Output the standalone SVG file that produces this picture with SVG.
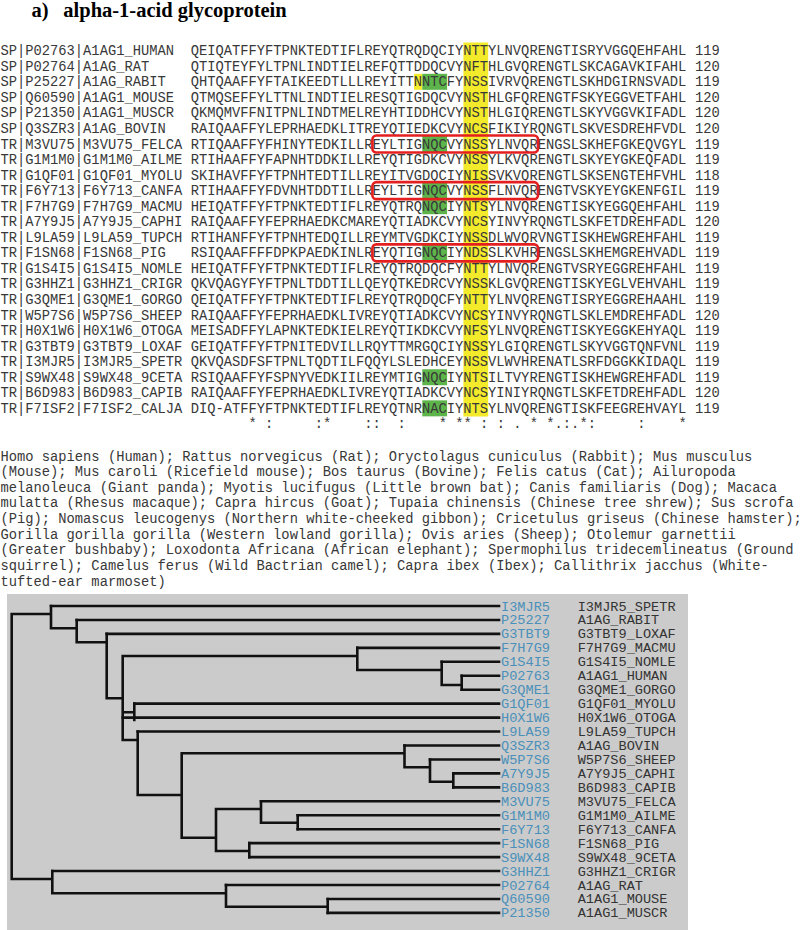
<svg xmlns="http://www.w3.org/2000/svg" width="800" height="930" viewBox="0 0 800 930">
<style>
.t{font-family:"Liberation Mono",monospace;font-size:13.78px;fill:#383838;white-space:pre}
.ttl{font-family:"Liberation Serif",serif;font-weight:bold;font-size:20.5px;fill:#000}
.yl{fill:#f2ea2b}
.gr{fill:#5db44b}
.rb{fill:none;stroke:#e3201f;stroke-width:2.6}
.br{fill:none;stroke:#111;stroke-width:2.6;stroke-linecap:square}
.id{font-family:"Liberation Mono",monospace;font-size:13.6px;fill:#4a90ba}
.nm{font-family:"Liberation Mono",monospace;font-size:13.6px;fill:#333}
</style>
<rect width="800" height="930" fill="#fff"/>
<g id="title">
<text class="ttl" x="31.5" y="17">a)</text>
<text class="ttl" x="63.3" y="17">alpha-1-acid glycoprotein</text>
</g>
<g id="highlights">
<rect class="yl" x="463.4" y="42.5" width="24.8" height="374"/>
<rect class="yl" x="414" y="73.8" width="8.3" height="16"/>
<rect class="gr" x="422.3" y="73.8" width="24.8" height="16"/>
<rect class="gr" x="422.3" y="136" width="24.8" height="16"/>
<rect class="gr" x="422.3" y="182.65" width="24.8" height="16"/>
<rect class="gr" x="422.3" y="198.2" width="24.8" height="16"/>
<rect class="gr" x="422.3" y="244.85" width="24.8" height="16"/>
<rect class="gr" x="422.3" y="369.25" width="24.8" height="16"/>
<rect class="gr" x="422.3" y="400.35" width="24.8" height="16"/>
</g>
<g id="labels">
<text class="t" x="0.5" y="55.2">SP|P02763|A1AG1_HUMAN</text>
<text class="t" x="0.5" y="70.75">SP|P02764|A1AG_RAT</text>
<text class="t" x="0.5" y="86.3">SP|P25227|A1AG_RABIT</text>
<text class="t" x="0.5" y="101.85">SP|Q60590|A1AG1_MOUSE</text>
<text class="t" x="0.5" y="117.4">SP|P21350|A1AG1_MUSCR</text>
<text class="t" x="0.5" y="132.95">SP|Q3SZR3|A1AG_BOVIN</text>
<text class="t" x="0.5" y="148.5">TR|M3VU75|M3VU75_FELCA</text>
<text class="t" x="0.5" y="164.05">TR|G1M1M0|G1M1M0_AILME</text>
<text class="t" x="0.5" y="179.6">TR|G1QF01|G1QF01_MYOLU</text>
<text class="t" x="0.5" y="195.15">TR|F6Y713|F6Y713_CANFA</text>
<text class="t" x="0.5" y="210.7">TR|F7H7G9|F7H7G9_MACMU</text>
<text class="t" x="0.5" y="226.25">TR|A7Y9J5|A7Y9J5_CAPHI</text>
<text class="t" x="0.5" y="241.8">TR|L9LA59|L9LA59_TUPCH</text>
<text class="t" x="0.5" y="257.35">TR|F1SN68|F1SN68_PIG</text>
<text class="t" x="0.5" y="272.9">TR|G1S4I5|G1S4I5_NOMLE</text>
<text class="t" x="0.5" y="288.45">TR|G3HHZ1|G3HHZ1_CRIGR</text>
<text class="t" x="0.5" y="304">TR|G3QME1|G3QME1_GORGO</text>
<text class="t" x="0.5" y="319.55">TR|W5P7S6|W5P7S6_SHEEP</text>
<text class="t" x="0.5" y="335.1">TR|H0X1W6|H0X1W6_OTOGA</text>
<text class="t" x="0.5" y="350.65">TR|G3TBT9|G3TBT9_LOXAF</text>
<text class="t" x="0.5" y="366.2">TR|I3MJR5|I3MJR5_SPETR</text>
<text class="t" x="0.5" y="381.75">TR|S9WX48|S9WX48_9CETA</text>
<text class="t" x="0.5" y="397.3">TR|B6D983|B6D983_CAPIB</text>
<text class="t" x="0.5" y="412.85">TR|F7ISF2|F7ISF2_CALJA</text>
</g>
<g id="sequences">
<text class="t" x="190.7" y="55.2">QEIQATFFYFTPNKTEDTIFLREYQTRQDQCIYNTTYLNVQRENGTISRYVGGQEHFAHL</text>
<text class="t" x="190.7" y="70.75">QTIQTEYFYLTPNLINDTIELREFQTTDDQCVYNFTHLGVQRENGTLSKCAGAVKIFAHL</text>
<text class="t" x="190.7" y="86.3">QHTQAAFFYFTAIKEEDTLLLREYITTNNTCFYNSSIVRVQRENGTLSKHDGIRNSVADL</text>
<text class="t" x="190.7" y="101.85">QTMQSEFFYLTTNLINDTIELRESQTIGDQCVYNSTHLGFQRENGTFSKYEGGVETFAHL</text>
<text class="t" x="190.7" y="117.4">QKMQMVFFNITPNLINDTMELREYHTIDDHCVYNSTHLGIQRENGTLSKYVGGVKIFADL</text>
<text class="t" x="190.7" y="132.95">RAIQAAFFYLEPRHAEDKLITREYQTIEDKCVYNCSFIKIYRQNGTLSKVESDREHFVDL</text>
<text class="t" x="190.7" y="148.5">RTIQAAFFYFHINYTEDKILLREYLTIGNQCVYNSSYLNVQRENGSLSKHEFGKEQVGYL</text>
<text class="t" x="190.7" y="164.05">RTIHAAFFYFAPNHTDDKILLREYQTIGDKCVYNSSYLKVQRENGTLSKYEYGKEQFADL</text>
<text class="t" x="190.7" y="179.6">SKIHAVFFYFTPNHTEDTILLREYITVGDQCIYNISSVKVQRENGTLSKSENGTEHFVHL</text>
<text class="t" x="190.7" y="195.15">RTIHAAFFYFDVNHTDDTILLREYLTIGNQCVYNSSFLNVQRENGTVSKYEYGKENFGIL</text>
<text class="t" x="190.7" y="210.7">HEIQATFFYFTPNKTEDTIFLREYQTRQNQCIYNTSYLNVQRENGTISKYEGGQEHFAHL</text>
<text class="t" x="190.7" y="226.25">RAIQAAFFYFEPRHAEDKCMAREYQTIADKCVYNCSYINVYRQNGTLSKFETDREHFADL</text>
<text class="t" x="190.7" y="241.8">RTIHANFFYFTPNHTEDQILLREYMTVGDKCIYNSSDLWVQRVNGTISKHEWGREHFAHL</text>
<text class="t" x="190.7" y="257.35">RSIQAAFFFFDPKPAEDKINLREYQTIGNQCIYNDSSLKVHRENGSLSKHEMGREHVADL</text>
<text class="t" x="190.7" y="272.9">HEIQATFFYFTPNKTEDTIFLREYQTRQDQCFYNTTYLNVQRENGTVSRYEGGREHFAHL</text>
<text class="t" x="190.7" y="288.45">QKVQAGYFYFTPNLTDDTILLQEYQTKEDRCVYNSSKLGVQRENGTISKYEGLVEHVAHL</text>
<text class="t" x="190.7" y="304">QEIQATFFYFTPNKTEDTIFLREYQTRQDQCFYNTTYLNVQRENGTISRYEGGREHAAHL</text>
<text class="t" x="190.7" y="319.55">RAIQAAFFYFEPRHAEDKLIVREYQTIADKCVYNCSYINVYRQNGTLSKLEMDREHFADL</text>
<text class="t" x="190.7" y="335.1">MEISADFFYLAPNKTEDKIELREYQTIKDKCVYNFSYLNVQRENGTISKYEGGKEHYAQL</text>
<text class="t" x="190.7" y="350.65">GEIQATFFYFTPNITEDVILLRQYTTMRGQCIYNSSYLGIQRENGTLSKYVGGTQNFVNL</text>
<text class="t" x="190.7" y="366.2">QKVQASDFSFTPNLTQDTILFQQYLSLEDHCEYNSSVLWVHRENATLSRFDGGKKIDAQL</text>
<text class="t" x="190.7" y="381.75">RSIQAAFFYFSPNYVEDKIILREYMTIGNQCIYNTSILTVYRENGTISKHEWGREHFADL</text>
<text class="t" x="190.7" y="397.3">RAIQAAFFYFEPRHAEDKLIVREYQTIADKCVYNCSYINIYRQNGTLSKFETDREHFADL</text>
<text class="t" x="190.7" y="412.85">DIQ-ATFFYFTPNKTEDTIFLREYQTNRNACIYNTSYLNVQRENGTISKFEEGREHVAYL</text>
<text class="t" x="248.6 265.1 314.7 323.0 364.3 372.6 397.4 438.8 455.3 463.6 480.1 496.7 513.2 529.7 546.3 554.5 562.8 571.1 579.4 587.7 637.3 678.6" y="428.4">*::*:::***::.**.:.*::*</text>
</g>
<g id="lengths">
<text class="t" x="695.1" y="55.2">119</text>
<text class="t" x="695.1" y="70.75">120</text>
<text class="t" x="695.1" y="86.3">119</text>
<text class="t" x="695.1" y="101.85">120</text>
<text class="t" x="695.1" y="117.4">120</text>
<text class="t" x="695.1" y="132.95">120</text>
<text class="t" x="695.1" y="148.5">119</text>
<text class="t" x="695.1" y="164.05">119</text>
<text class="t" x="695.1" y="179.6">118</text>
<text class="t" x="695.1" y="195.15">119</text>
<text class="t" x="695.1" y="210.7">119</text>
<text class="t" x="695.1" y="226.25">120</text>
<text class="t" x="695.1" y="241.8">119</text>
<text class="t" x="695.1" y="257.35">119</text>
<text class="t" x="695.1" y="272.9">119</text>
<text class="t" x="695.1" y="288.45">119</text>
<text class="t" x="695.1" y="304">119</text>
<text class="t" x="695.1" y="319.55">120</text>
<text class="t" x="695.1" y="335.1">119</text>
<text class="t" x="695.1" y="350.65">119</text>
<text class="t" x="695.1" y="366.2">119</text>
<text class="t" x="695.1" y="381.75">119</text>
<text class="t" x="695.1" y="397.3">120</text>
<text class="t" x="695.1" y="412.85">119</text>
</g>
<g id="boxes">
<rect class="rb" x="372.4" y="135.5" width="165.6" height="17" rx="4"/>
<rect class="rb" x="372.4" y="182.15" width="165.6" height="17" rx="4"/>
<rect class="rb" x="372.4" y="244.35" width="165.6" height="17" rx="4"/>
</g>
<g id="species">
<text class="t" x="0.5" y="460.5">Homo sapiens (Human); Rattus norvegicus (Rat); Oryctolagus cuniculus (Rabbit); Mus musculus</text>
<text class="t" x="0.5" y="476.15">(Mouse); Mus caroli (Ricefield mouse); Bos taurus (Bovine); Felis catus (Cat); Ailuropoda</text>
<text class="t" x="0.5" y="491.8">melanoleuca (Giant panda); Myotis lucifugus (Little brown bat); Canis familiaris (Dog); Macaca</text>
<text class="t" x="0.5" y="507.45">mulatta (Rhesus macaque); Capra hircus (Goat); Tupaia chinensis (Chinese tree shrew); Sus scrofa</text>
<text class="t" x="0.5" y="523.1">(Pig); Nomascus leucogenys (Northern white-cheeked gibbon); Cricetulus griseus (Chinese hamster);</text>
<text class="t" x="0.5" y="538.75">Gorilla gorilla gorilla (Western lowland gorilla); Ovis aries (Sheep); Otolemur garnettii</text>
<text class="t" x="0.5" y="554.4">(Greater bushbaby); Loxodonta Africana (African elephant); Spermophilus tridecemlineatus (Ground</text>
<text class="t" x="0.5" y="570.05">squirrel); Camelus ferus (Wild Bactrian camel); Capra ibex (Ibex); Callithrix jacchus (White-</text>
<text class="t" x="0.5" y="585.7">tufted-ear marmoset)</text>
</g>
<g id="tree-panel">
<rect x="7" y="594" width="681" height="336" fill="#cbcbcb"/>
</g>
<g id="connectors" class="br">
<path class="br" d="M11.7 614V879M11.7 614H51M51 606V628.3M51 628.3H76.7M76.7 619.95V642.3M76.7 642.3H106.7M106.7 633.9V698.3M106.7 698.3H122.7M122.7 656V740M122.7 656H357.3M357.3 647.85V670M357.3 670H441.7M441.7 661.8V685M441.7 685H461.7M461.7 675.75V689.7M122.7 712.3H134.3M134.3 703.65V720M122.7 740H137.7M137.7 731.55V795M137.7 795H181.7M181.7 753.3V837.7M181.7 753.3H404.5M404.5 745.5V767.3M404.5 767.3H430M430 759.45V781.7M430 781.7H453.3M453.3 773.4V787.35M181.7 837.7H216M216 809V851M216 809H261M261 801.3V822.7M261 822.7H297.7M297.7 815.25V829.2M216 851H249.3M249.3 843.15V857.1M11.7 879H52.3M52.3 871.05V893.3M52.3 893.3H226M226 885V906.7M226 906.7H327.7M327.7 898.95V912.9"/>
<path class="br" d="M51 606H499M76.7 619.95H499M106.7 633.9H499M357.3 647.85H499M441.7 661.8H499M461.7 675.75H499M461.7 689.7H499M134.3 703.65H499M122.7 717.6H499M137.7 731.55H499M404.5 745.5H499M430 759.45H499M453.3 773.4H499M453.3 787.35H499M261 801.3H499M297.7 815.25H499M297.7 829.2H499M249.3 843.15H499M249.3 857.1H499M52.3 871.05H499M226 885H499M327.7 898.95H499M327.7 912.9H499"/>
</g>
<g id="leaf-I3MJR5"><text class="id" x="501" y="610.5">I3MJR5</text><text class="nm" x="577.7" y="610.5">I3MJR5_SPETR</text></g>
<g id="leaf-P25227"><text class="id" x="501" y="624.45">P25227</text><text class="nm" x="577.7" y="624.45">A1AG_RABIT</text></g>
<g id="leaf-G3TBT9"><text class="id" x="501" y="638.4">G3TBT9</text><text class="nm" x="577.7" y="638.4">G3TBT9_LOXAF</text></g>
<g id="leaf-F7H7G9"><text class="id" x="501" y="652.35">F7H7G9</text><text class="nm" x="577.7" y="652.35">F7H7G9_MACMU</text></g>
<g id="leaf-G1S4I5"><text class="id" x="501" y="666.3">G1S4I5</text><text class="nm" x="577.7" y="666.3">G1S4I5_NOMLE</text></g>
<g id="leaf-P02763"><text class="id" x="501" y="680.25">P02763</text><text class="nm" x="577.7" y="680.25">A1AG1_HUMAN</text></g>
<g id="leaf-G3QME1"><text class="id" x="501" y="694.2">G3QME1</text><text class="nm" x="577.7" y="694.2">G3QME1_GORGO</text></g>
<g id="leaf-G1QF01"><text class="id" x="501" y="708.15">G1QF01</text><text class="nm" x="577.7" y="708.15">G1QF01_MYOLU</text></g>
<g id="leaf-H0X1W6"><text class="id" x="501" y="722.1">H0X1W6</text><text class="nm" x="577.7" y="722.1">H0X1W6_OTOGA</text></g>
<g id="leaf-L9LA59"><text class="id" x="501" y="736.05">L9LA59</text><text class="nm" x="577.7" y="736.05">L9LA59_TUPCH</text></g>
<g id="leaf-Q3SZR3"><text class="id" x="501" y="750">Q3SZR3</text><text class="nm" x="577.7" y="750">A1AG_BOVIN</text></g>
<g id="leaf-W5P7S6"><text class="id" x="501" y="763.95">W5P7S6</text><text class="nm" x="577.7" y="763.95">W5P7S6_SHEEP</text></g>
<g id="leaf-A7Y9J5"><text class="id" x="501" y="777.9">A7Y9J5</text><text class="nm" x="577.7" y="777.9">A7Y9J5_CAPHI</text></g>
<g id="leaf-B6D983"><text class="id" x="501" y="791.85">B6D983</text><text class="nm" x="577.7" y="791.85">B6D983_CAPIB</text></g>
<g id="leaf-M3VU75"><text class="id" x="501" y="805.8">M3VU75</text><text class="nm" x="577.7" y="805.8">M3VU75_FELCA</text></g>
<g id="leaf-G1M1M0"><text class="id" x="501" y="819.75">G1M1M0</text><text class="nm" x="577.7" y="819.75">G1M1M0_AILME</text></g>
<g id="leaf-F6Y713"><text class="id" x="501" y="833.7">F6Y713</text><text class="nm" x="577.7" y="833.7">F6Y713_CANFA</text></g>
<g id="leaf-F1SN68"><text class="id" x="501" y="847.65">F1SN68</text><text class="nm" x="577.7" y="847.65">F1SN68_PIG</text></g>
<g id="leaf-S9WX48"><text class="id" x="501" y="861.6">S9WX48</text><text class="nm" x="577.7" y="861.6">S9WX48_9CETA</text></g>
<g id="leaf-G3HHZ1"><text class="id" x="501" y="875.55">G3HHZ1</text><text class="nm" x="577.7" y="875.55">G3HHZ1_CRIGR</text></g>
<g id="leaf-P02764"><text class="id" x="501" y="889.5">P02764</text><text class="nm" x="577.7" y="889.5">A1AG_RAT</text></g>
<g id="leaf-Q60590"><text class="id" x="501" y="903.45">Q60590</text><text class="nm" x="577.7" y="903.45">A1AG1_MOUSE</text></g>
<g id="leaf-P21350"><text class="id" x="501" y="917.4">P21350</text><text class="nm" x="577.7" y="917.4">A1AG1_MUSCR</text></g>
</svg>
